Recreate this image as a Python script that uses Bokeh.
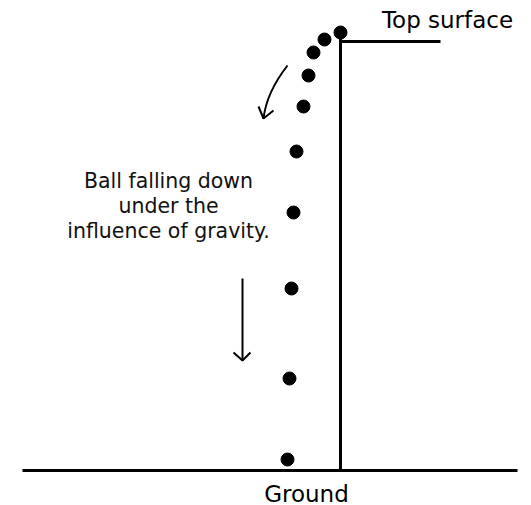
from bokeh.plotting import figure
from bokeh.models import Range1d
from bokeh.core.properties import value
from bokeh.embed import file_html
from bokeh.resources import INLINE

# Ball positions (image pixel coordinates, y downward)
ball_x = [340, 324, 313, 308, 303, 296, 293, 291, 289, 287]
ball_y = [32, 39, 52, 75, 106, 151, 212, 288, 378, 459]

# Structure
wall_x = [340, 340]
wall_y = [36, 470]
top_x = [340, 440]
top_y = [41, 41]
ground_x = [22, 517]
ground_y = [470, 470]

# Labels
label_text = ["Top surface", "Ground"]
label_x = [447, 306]
label_y = [19, 493]
desc_lines = ["Ball falling down", "under the", "influence of gravity."]
desc_x = [168, 168, 168]
desc_y = [180, 205, 230]

# Curved arrow (quadratic bezier) and head
curve_start = (287, 65)
curve_ctrl = (266, 92)
curve_end = (263, 118)
curve_head_x = [258, 263, 273]
curve_head_y = [106, 118, 110]

# Straight arrow and head
arrow_x = [242, 242]
arrow_y = [278, 360]
arrow_head_x = [233, 242, 250]
arrow_head_y = [352, 360, 352]

p = figure(width=531, height=505, output_backend="svg", toolbar_location=None,
           x_range=Range1d(0, 531), y_range=Range1d(505, 0),
           min_border=0, background_fill_color="white", border_fill_color="white")
p.axis.visible = False
p.grid.visible = False
p.outline_line_color = None

p.line(wall_x, wall_y, line_color="black", line_width=3)
p.line(top_x, top_y, line_color="black", line_width=3)
p.line(ground_x, ground_y, line_color="black", line_width=3)

p.scatter(ball_x, ball_y, size=13, marker="circle", color="black")

p.quadratic(x0=[curve_start[0]], y0=[curve_start[1]], x1=[curve_end[0]], y1=[curve_end[1]],
            cx=[curve_ctrl[0]], cy=[curve_ctrl[1]], line_color="black", line_width=2)
p.line(curve_head_x, curve_head_y, line_color="black", line_width=2)

p.line(arrow_x, arrow_y, line_color="black", line_width=2)
p.line(arrow_head_x, arrow_head_y, line_color="black", line_width=2)

p.text(x=label_x, y=label_y, text=label_text, text_font=value("DejaVu Sans"),
       text_font_size="23px", text_align="center", text_baseline="middle", text_color="black")
p.text(x=desc_x, y=desc_y, text=desc_lines, text_font=value("DejaVu Sans"),
       text_font_size="20.5px", text_align="center", text_baseline="middle", text_color="#111111")

open("out.html", "w").write(file_html(p, INLINE))
